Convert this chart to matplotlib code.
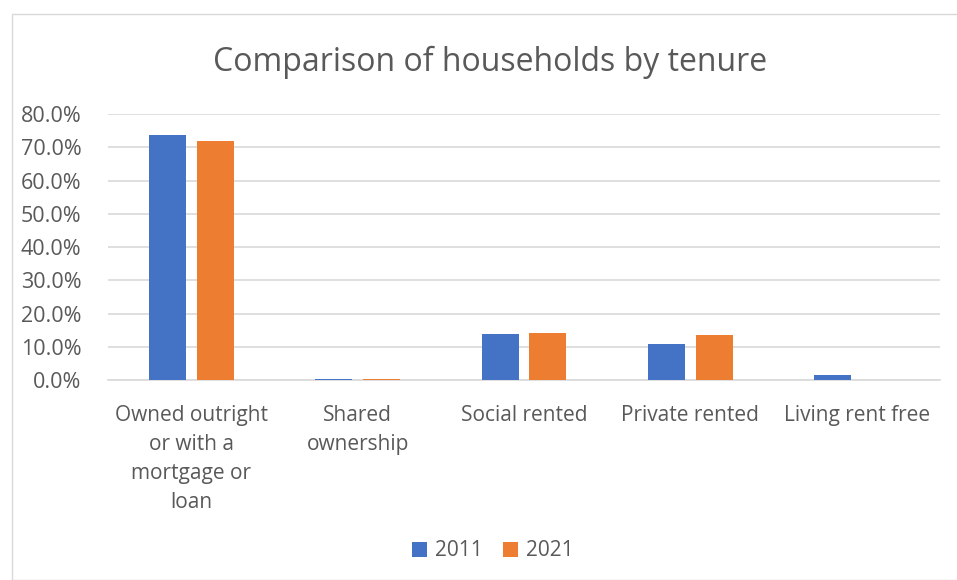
import matplotlib.pyplot as plt
import numpy as np
from matplotlib.patches import Rectangle

categories = ["Owned outright\nor with a\nmortgage or\nloan", "Shared\nownership",
              "Social rented", "Private rented", "Living rent free"]
years = ["2011", "2021"]
share_2011 = [73.7, 0.35, 13.8, 10.8, 1.4]
share_2021 = [71.9, 0.35, 14.0, 13.6, 0.0]
yticks = [0, 10, 20, 30, 40, 50, 60, 70, 80]

plt.rcParams['font.family'] = ['Open Sans', 'DejaVu Sans']
text_col = '#595959'
grid_col = '#D9D9D9'

fig = plt.figure(figsize=(9.57, 5.8), dpi=100)
fig.patches.append(Rectangle((12 / 957, 0), 1.0, 1 - 14 / 580, transform=fig.transFigure,
                             fill=False, edgecolor=grid_col, linewidth=1.0))

ax = fig.add_axes([108 / 957, 1 - 380 / 580, (940 - 108) / 957, (380 - 114) / 580])
x = np.arange(len(categories))
w = 0.222
off = 0.144
ax.bar(x - off, share_2011, w, color='#4472C4', label=years[0], zorder=3)
ax.bar(x + off, share_2021, w, color='#ED7D31', label=years[1], zorder=3)

ax.set_xlim(-0.5, len(categories) - 0.5)
ax.set_ylim(0, 80)
ax.set_yticks(yticks)
ax.set_yticklabels([f"{v:.1f}%" for v in yticks])
ax.set_xticks(x)
ax.set_xticklabels(categories, linespacing=1.5, va='top')
ax.tick_params(axis='x', length=0, labelsize=15, colors=text_col, pad=18)
ax.tick_params(axis='y', length=0, labelsize=15.5, colors=text_col, pad=19)
ax.grid(axis='y', color=grid_col, linewidth=1.2, zorder=0)
for s in ['top', 'right', 'left']:
    ax.spines[s].set_visible(False)
ax.spines['bottom'].set_color(grid_col)
ax.spines['bottom'].set_linewidth(1.2)

fig.text(490 / 957, 1 - 62 / 580, "Comparison of households by tenure", ha='center', va='center',
         fontsize=23, color=text_col)

fig.legend(loc='center', bbox_to_anchor=(493 / 957, 1 - 551 / 580), ncol=2, frameon=False,
           fontsize=15, labelcolor=text_col, handlelength=0.7, handleheight=0.7,
           handletextpad=0.4, columnspacing=1.0)

fig.savefig('out.png', dpi=100)
